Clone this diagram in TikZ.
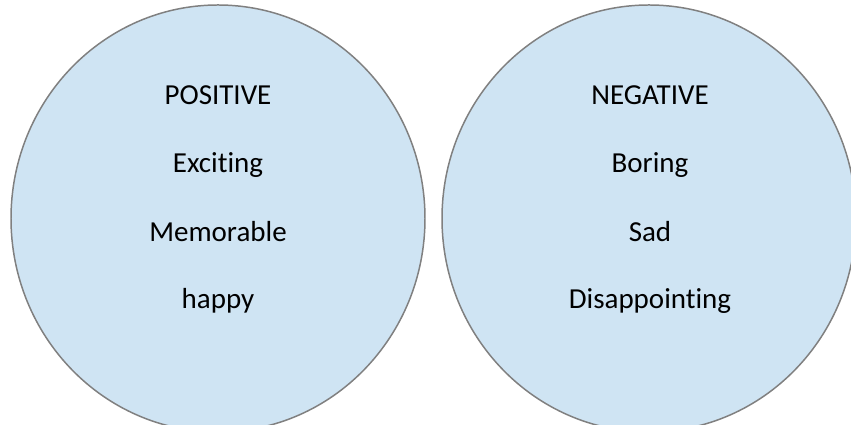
\documentclass[tikz,border=0pt]{standalone}
\usepackage{fontspec}
\setmainfont[Ligatures=NoCommon]{Carlito}
\definecolor{bubblefill}{RGB}{207,228,243}
\definecolor{bubbleline}{RGB}{128,128,128}
\tikzset{
	bubble/.style={draw=bubbleline, fill=bubblefill, line width=0.85pt},
	word/.style={anchor=base, font=\fontsize{16.5}{20}\selectfont}
}
\begin{document}
\begin{tikzpicture}
	% frame
		\clip (0,0) rectangle (17.02,8.5);
		\useasboundingbox (0,0) rectangle (17.02,8.5);
	% circles
		\draw[bubble] (4.36,4.13) ellipse (4.14 and 4.27);
		\draw[bubble] (12.98,4.13) ellipse (4.14 and 4.27);
	% positive side
		\node[word] (pos) at (4.36,6.4) {POSITIVE};
		\node[word] (exciting) at (4.36,5.04) {Exciting};
		\node[word] (memorable) at (4.36,3.66) {Memorable};
		\node[word] (happy) at (4.36,2.32) {happy};
	% negative side
		\node[word] (neg) at (13.0,6.4) {NEGATIVE};
		\node[word] (boring) at (13.0,5.04) {Boring};
		\node[word] (sad) at (13.0,3.66) {Sad};
		\node[word] (disappointing) at (13.0,2.32) {Disappointing};
\end{tikzpicture}
\end{document}
